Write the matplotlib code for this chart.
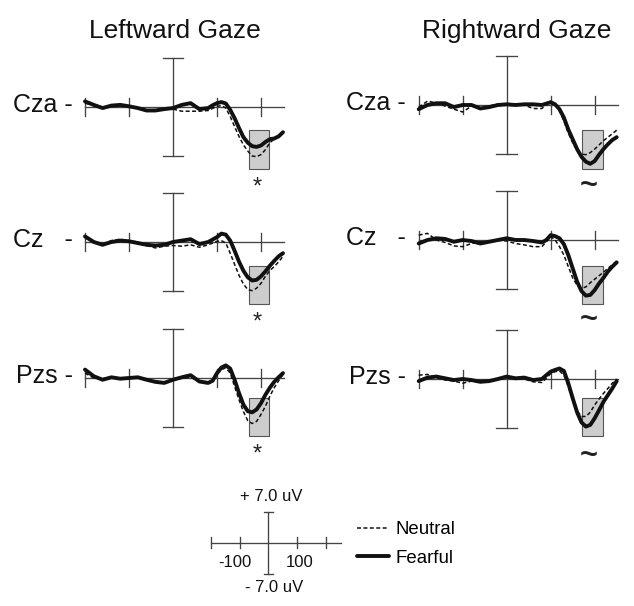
import matplotlib
matplotlib.use("Agg")
import matplotlib.pyplot as plt
from matplotlib.patches import Rectangle

plt.rcParams['font.family'] = ['Liberation Sans', 'DejaVu Sans']

# ---------------- data ----------------
times = [-200, -180, -160, -140, -120, -100, -80, -60, -40, -20, 0, 20, 40, 60, 80,
         90, 100, 110, 120, 130, 140, 150, 160, 170, 180, 190, 200, 210, 220, 230, 240, 250]

column_titles = ["Leftward Gaze", "Rightward Gaze"]
channel_labels = ["Cza -", "Cz   -", "Pzs -"]
condition_names = ["Neutral", "Fearful"]

left_cza_neutral = [0.55, 0.2, -0.15, 0.3, 0.3, 0.1, -0.1, -0.4, -0.45, -0.3, -0.3, -0.6, -0.6, -0.6, -0.5,
                    -0.2, 0.1, 0.2, -0.15, -1.35, -2.8, -4.2, -5.4, -6.3, -7.0, -7.1, -6.8, -6.1, -5.1, -4.6, -4.3, -3.7]
left_cza_fearful = [0.8, 0.3, -0.15, 0.2, 0.3, 0.1, -0.15, -0.5, -0.5, -0.3, -0.15, 0.3, 0.55, -0.3, -0.15,
                    0.25, 0.55, 0.7, 0.5, -0.4, -1.6, -3.0, -4.3, -5.1, -5.6, -5.7, -5.5, -5.0, -4.6, -4.5, -4.2, -3.6]
right_cza_neutral = [-0.3, 0.55, 0.3, -0.15, -0.6, -1.0, -0.15, -0.5, -0.15, 0.1, 0.0, 0.1, 0.0, -0.5, -0.5,
                     0.1, 0.5, 0.2, -0.85, -2.3, -4.0, -5.4, -6.5, -7.0, -7.1, -6.8, -6.3, -5.7, -5.1, -4.6, -4.1, -3.6]
right_cza_fearful = [-0.6, 0.0, 0.25, 0.25, -0.3, 0.0, 0.0, -0.5, -0.3, 0.0, 0.1, 0.0, 0.1, 0.1, 0.0,
                     0.2, 0.4, 0.1, -0.6, -1.8, -3.5, -4.9, -6.3, -7.4, -8.1, -8.4, -8.0, -7.1, -6.3, -5.6, -5.0, -4.6]
left_cz_neutral = [0.55, 0.1, -0.3, 0.2, 0.4, 0.2, 0.0, -0.5, -0.85, -0.6, -0.5, -0.6, -0.4, -0.75, -0.4,
                   -0.15, 0.1, 0.2, -0.15, -1.6, -3.2, -4.75, -6.0, -6.8, -6.95, -6.6, -5.9, -4.9, -4.1, -3.5, -2.85, -2.05]
left_cz_fearful = [0.8, 0.0, -0.4, 0.0, 0.2, 0.1, -0.15, -0.4, -0.5, -0.4, 0.0, 0.2, 0.4, -0.3, 0.0,
                   0.35, 0.7, 1.2, 1.05, 0.2, -1.25, -2.8, -4.1, -5.05, -5.5, -5.4, -4.9, -4.2, -3.4, -2.7, -2.05, -1.6]
right_cz_neutral = [0.7, 0.95, 0.0, -0.35, -0.85, -0.95, -0.5, -0.25, -0.25, 0.0, -0.15, -0.5, -0.7, -0.95, -0.95,
                    -0.25, 0.5, 0.0, -0.95, -2.15, -3.8, -5.4, -6.45, -6.9, -6.7, -6.1, -5.6, -5.1, -4.6, -4.05, -3.55, -3.0]
right_cz_fearful = [-0.5, 0.0, 0.25, 0.15, -0.25, 0.0, -0.15, -0.5, -0.25, 0.0, 0.25, 0.0, 0.0, -0.15, -0.35,
                    0.0, 0.7, 0.55, 0.25, -0.6, -2.15, -4.05, -5.95, -7.3, -7.95, -7.85, -7.15, -6.2, -5.4, -4.5, -3.8, -3.2]
left_pzs_neutral = [0.7, 0.0, -0.1, 0.1, -0.05, 0.05, 0.1, -0.2, -0.45, -0.6, -0.25, 0.0, 0.1, -0.55, -0.85,
                    -0.4, 0.5, 1.2, 1.45, 0.7, -1.2, -3.1, -4.8, -6.1, -6.5, -6.2, -5.2, -4.05, -2.6, -1.4, -0.4, 0.5]
left_pzs_fearful = [1.2, 0.25, -0.25, 0.1, -0.1, 0.0, 0.1, -0.25, -0.55, -0.7, -0.25, 0.1, 0.4, -0.5, -0.7,
                    -0.4, 0.7, 1.5, 1.8, 1.35, -0.25, -2.15, -3.8, -4.75, -4.9, -4.5, -3.6, -2.4, -1.4, -0.55, 0.1, 0.7]
right_pzs_neutral = [0.55, 0.65, 0.2, -0.15, -0.3, -0.6, -0.3, -0.5, -0.15, 0.0, 0.1, 0.0, 0.0, -0.4, -0.5,
                     0.1, 0.8, 1.05, 1.15, 0.55, -1.1, -3.0, -4.55, -5.35, -5.35, -4.75, -3.7, -2.85, -2.05, -1.35, -0.6, 0.0]
right_pzs_fearful = [-0.3, 0.2, 0.35, 0.1, -0.15, 0.0, -0.15, -0.4, -0.3, 0.0, 0.35, 0.1, 0.2, -0.15, 0.0,
                     0.55, 1.05, 1.3, 1.5, 1.15, -0.6, -2.75, -4.75, -6.2, -6.8, -6.55, -5.6, -4.45, -3.25, -2.3, -1.35, -0.3]

# analysis window (ms) and shaded amplitude range (uV) per panel [row][col]
window_ms = [172, 218]
window_uv = [[(-3.3, -8.85), (-3.5, -9.1)],
             [(-3.4, -8.9), (-3.7, -9.2)],
             [(-2.9, -8.25), (-2.75, -8.1)]]
stat_marks = [["*", "~"], ["*", "~"], ["*", "~"]]

axis_ticks_ms = [-200, -100, 0, 100, 200]
axis_end_ms = 252
scale_uv = 7.0
scale_labels_ms = [-100, 100]

series = [[(left_cza_neutral, left_cza_fearful), (right_cza_neutral, right_cza_fearful)],
          [(left_cz_neutral, left_cz_fearful), (right_cz_neutral, right_cz_fearful)],
          [(left_pzs_neutral, left_pzs_fearful), (right_pzs_neutral, right_pzs_fearful)]]

# ---------------- layout (pixels) ----------------
W, H = 634, 606
fig = plt.figure(figsize=(W / 100, H / 100), dpi=100)

AX_COL = '#444444'
TXT = '#111111'
DASH = (0, (2.6, 1.6))


def make_axes(x0, y0, sx, sy, xlim, ylim):
    left = x0 + sx * xlim[0]
    right = x0 + sx * xlim[1]
    top = y0 - sy * ylim[1]
    bottom = y0 - sy * ylim[0]
    ax = fig.add_axes([left / W, 1 - bottom / H, (right - left) / W, (bottom - top) / H])
    ax.set_xlim(xlim)
    ax.set_ylim(ylim)
    ax.axis('off')
    return ax


def draw_cross(ax, tick_half_uv, cap_half_ms, lw=0.95):
    ax.plot([axis_ticks_ms[0], axis_end_ms], [0, 0], color=AX_COL, lw=lw, zorder=1)
    for t in axis_ticks_ms:
        if t != 0:
            ax.plot([t, t], [-tick_half_uv, tick_half_uv], color=AX_COL, lw=lw, zorder=1)
    ax.plot([0, 0], [-scale_uv, scale_uv], color=AX_COL, lw=lw, zorder=1)
    for v in (-scale_uv, scale_uv):
        ax.plot([-cap_half_ms, cap_half_ms], [v, v], color=AX_COL, lw=lw, zorder=1)


col_x0 = [173, 506.7]
row_y0 = [[107, 105], [242, 240], [378, 379]]
label_right_px = [73, 406]
SX, SY = 0.44, 7.0
XLIM = (-240, 275)
YLIM = (-12.5, 9.0)

handles = None
for r in range(3):
    for c in range(2):
        x0, y0 = col_x0[c], row_y0[r][c]
        ax = make_axes(x0, y0, SX, SY, XLIM, YLIM)
        draw_cross(ax, 1.3, 23.5)
        top_uv, bot_uv = window_uv[r][c]
        ax.add_patch(Rectangle((window_ms[0], bot_uv), window_ms[1] - window_ms[0], top_uv - bot_uv,
                               facecolor='#cdcdcd', edgecolor='#555555', lw=0.8, zorder=2))
        neu, fea = series[r][c]
        l1, = ax.plot(times, neu, color='#111111', lw=1.1, linestyle=DASH, zorder=3,
                      label=condition_names[0])
        l2, = ax.plot(times, fea, color='#111111', lw=2.8, solid_joinstyle='round',
                      solid_capstyle='round', zorder=4, label=condition_names[1])
        if handles is None:
            handles = [l1, l2]
        # stat marker
        mark = stat_marks[r][c]
        if mark == '*':
            ax.text(sum(window_ms) / 2 - 3, -11.5 if r < 2 else -11.0, mark,
                    ha='center', va='center', fontsize=17, color='#222222')
        else:
            ax.text(sum(window_ms) / 2 - 8, -11.5 if r < 2 else -11.0, mark,
                    ha='center', va='center', fontsize=22, fontweight='bold', color='#222222')
        # channel label
        lx = (label_right_px[c] - x0) / SX
        ax.text(lx, -5 / SY, channel_labels[r], ha='right', va='baseline', fontsize=18, color=TXT)

# titles
fig.text(175 / W, 1 - 38 / H, column_titles[0], ha='center', va='baseline', fontsize=19, color=TXT)
fig.text(516.5 / W, 1 - 38 / H, column_titles[1], ha='center', va='baseline', fontsize=19, color=TXT)

# scale legend
lx0, ly0 = 268.3, 542.7
lsx, lsy = 0.2875, 31 / 7.0
lax = make_axes(lx0, ly0, lsx, lsy, (-230, 280), (-13, 13))
draw_cross(lax, 1.29, 16)
lax.text(11, 9.4, "+ %.1f uV" % scale_uv, ha='center', va='baseline', fontsize=12, color=TXT)
lax.text(21, -11.1, "- %.1f uV" % scale_uv, ha='center', va='baseline', fontsize=12, color=TXT)
for t in scale_labels_ms:
    lax.text(t + (-16 if t < 0 else 8.5), -5.4, "%d" % t, ha='center', va='baseline', fontsize=12,
             color=TXT)

leg = lax.legend(handles=handles, labels=condition_names, loc='upper left',
                 bbox_to_anchor=(356.7 / W, 1 - 521 / H), bbox_transform=fig.transFigure,
                 frameon=False, fontsize=13.4, handlelength=1.75, handletextpad=0.35,
                 borderpad=0, borderaxespad=0, labelspacing=0.62)

fig.savefig("out.png", dpi=100)
